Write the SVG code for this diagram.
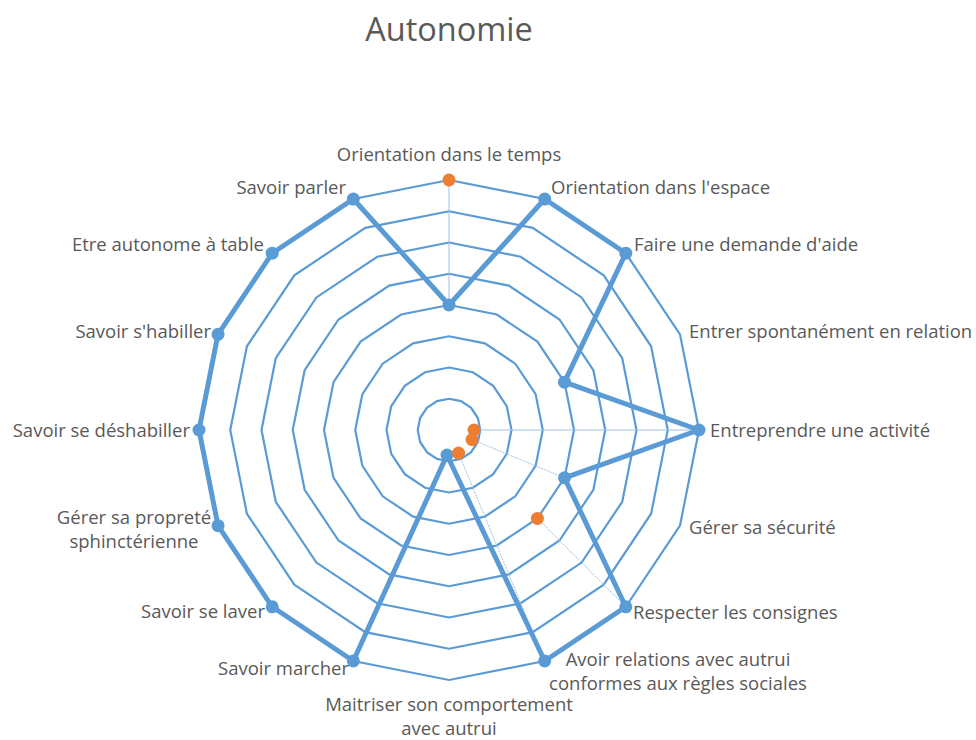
<svg xmlns="http://www.w3.org/2000/svg" width="976" height="740" viewBox="0 0 976 740">
<style>
.ring{fill:none;stroke:#5B9BD5;stroke-width:2.2}
.spoke{stroke:#9DC3E6;stroke-width:1;fill:none}
.ser1{fill:none;stroke:#5B9BD5;stroke-width:5;stroke-linejoin:round}
.m1{fill:#5B9BD5}
.m2{fill:#ED7D31}
.lbl{font-family:"Open Sans","Noto Sans",sans-serif;font-size:18.5px;fill:#595959}
.title{font-family:"Open Sans","Noto Sans",sans-serif;font-size:32.5px;fill:#595959}
</style>
<rect width="976" height="740" fill="#fff"/>
<text class="title" x="449" y="41" text-anchor="middle">Autonomie</text>
<g id="grid" transform="translate(449,430)">
<polygon class="ring" points="0,-31.25 11.96,-28.87 22.1,-22.1 28.87,-11.96 31.25,0 28.87,11.96 22.1,22.1 11.96,28.87 0,31.25 -11.96,28.87 -22.1,22.1 -28.87,11.96 -31.25,0 -28.87,-11.96 -22.1,-22.1 -11.96,-28.87"/>
<polygon class="ring" points="0,-62.5 23.92,-57.74 44.19,-44.19 57.74,-23.92 62.5,0 57.74,23.92 44.19,44.19 23.92,57.74 0,62.5 -23.92,57.74 -44.19,44.19 -57.74,23.92 -62.5,0 -57.74,-23.92 -44.19,-44.19 -23.92,-57.74"/>
<polygon class="ring" points="0,-93.75 35.88,-86.61 66.29,-66.29 86.61,-35.88 93.75,0 86.61,35.88 66.29,66.29 35.88,86.61 0,93.75 -35.88,86.61 -66.29,66.29 -86.61,35.88 -93.75,0 -86.61,-35.88 -66.29,-66.29 -35.88,-86.61"/>
<polygon class="ring" points="0,-125 47.84,-115.49 88.39,-88.39 115.49,-47.84 125,0 115.49,47.84 88.39,88.39 47.84,115.49 0,125 -47.84,115.49 -88.39,88.39 -115.49,47.84 -125,0 -115.49,-47.84 -88.39,-88.39 -47.84,-115.49"/>
<polygon class="ring" points="0,-156.25 59.79,-144.36 110.49,-110.49 144.36,-59.79 156.25,0 144.36,59.79 110.49,110.49 59.79,144.36 0,156.25 -59.79,144.36 -110.49,110.49 -144.36,59.79 -156.25,0 -144.36,-59.79 -110.49,-110.49 -59.79,-144.36"/>
<polygon class="ring" points="0,-187.5 71.75,-173.23 132.58,-132.58 173.23,-71.75 187.5,0 173.23,71.75 132.58,132.58 71.75,173.23 0,187.5 -71.75,173.23 -132.58,132.58 -173.23,71.75 -187.5,0 -173.23,-71.75 -132.58,-132.58 -71.75,-173.23"/>
<polygon class="ring" points="0,-218.75 83.71,-202.1 154.68,-154.68 202.1,-83.71 218.75,0 202.1,83.71 154.68,154.68 83.71,202.1 0,218.75 -83.71,202.1 -154.68,154.68 -202.1,83.71 -218.75,0 -202.1,-83.71 -154.68,-154.68 -83.71,-202.1"/>
<polygon class="ring" points="0,-250 95.67,-230.97 176.78,-176.78 230.97,-95.67 250,0 230.97,95.67 176.78,176.78 95.67,230.97 0,250 -95.67,230.97 -176.78,176.78 -230.97,95.67 -250,0 -230.97,-95.67 -176.78,-176.78 -95.67,-230.97"/>
</g>
<g id="connectors" transform="translate(449,430)">
<line class="spoke" x1="0" y1="-250" x2="0" y2="-125"/>
<line class="spoke" x1="25" y1="0" x2="250" y2="0"/>
<line class="spoke" x1="23.1" y1="9.57" x2="115.49" y2="47.84" stroke-dasharray="2 1"/>
<line class="spoke" x1="88.39" y1="88.39" x2="176.78" y2="176.78" stroke-dasharray="2 1"/>
<line class="spoke" x1="9.57" y1="23.1" x2="95.67" y2="230.97" stroke-dasharray="2 1"/>
<polygon class="ser1" points="0,-125 95.67,-230.97 176.78,-176.78 115.49,-47.84 250,0 115.49,47.84 176.78,176.78 95.67,230.97 -2,25 -95.67,230.97 -176.78,176.78 -230.97,95.67 -250,0 -230.97,-95.67 -176.78,-176.78 -95.67,-230.97"/>
</g>
<g id="series1-markers" transform="translate(449,430)">
<circle class="m1" cx="0" cy="-125" r="6.5"/>
<circle class="m1" cx="95.67" cy="-230.97" r="6.5"/>
<circle class="m1" cx="176.78" cy="-176.78" r="6.5"/>
<circle class="m1" cx="115.49" cy="-47.84" r="6.5"/>
<circle class="m1" cx="250" cy="0" r="6.5"/>
<circle class="m1" cx="115.49" cy="47.84" r="6.5"/>
<circle class="m1" cx="176.78" cy="176.78" r="6.5"/>
<circle class="m1" cx="95.67" cy="230.97" r="6.5"/>
<circle class="m1" cx="-2" cy="25" r="6.5"/>
<circle class="m1" cx="-95.67" cy="230.97" r="6.5"/>
<circle class="m1" cx="-176.78" cy="176.78" r="6.5"/>
<circle class="m1" cx="-230.97" cy="95.67" r="6.5"/>
<circle class="m1" cx="-250" cy="0" r="6.5"/>
<circle class="m1" cx="-230.97" cy="-95.67" r="6.5"/>
<circle class="m1" cx="-176.78" cy="-176.78" r="6.5"/>
<circle class="m1" cx="-95.67" cy="-230.97" r="6.5"/>
</g>
<g id="series2-markers" transform="translate(449,430)">
<circle class="m2" cx="0" cy="-250" r="6.5"/>
<circle class="m2" cx="25" cy="0" r="6.5"/>
<circle class="m2" cx="23.1" cy="9.57" r="6.5"/>
<circle class="m2" cx="88.39" cy="88.39" r="6.5"/>
<circle class="m2" cx="9.57" cy="23.1" r="6.5"/>
</g>
<g id="labels">
<text class="lbl" x="449" y="161" text-anchor="middle">Orientation dans le temps</text>
<text class="lbl" x="551" y="194">Orientation dans l'espace</text>
<text class="lbl" x="634" y="251">Faire une demande d'aide</text>
<text class="lbl" x="689" y="338">Entrer spontanément en relation</text>
<text class="lbl" x="710" y="437">Entreprendre une activité</text>
<text class="lbl" x="689" y="534">Gérer sa sécurité</text>
<text class="lbl" x="633" y="619">Respecter les consignes</text>
<text class="lbl" x="678" y="666" text-anchor="middle">Avoir relations avec autrui</text>
<text class="lbl" x="678" y="690" text-anchor="middle">conformes aux règles sociales</text>
<text class="lbl" x="449" y="711" text-anchor="middle">Maitriser son comportement</text>
<text class="lbl" x="449" y="735" text-anchor="middle">avec autrui</text>
<text class="lbl" x="349" y="675" text-anchor="end">Savoir marcher</text>
<text class="lbl" x="265" y="618" text-anchor="end">Savoir se laver</text>
<text class="lbl" x="134" y="524" text-anchor="middle">Gérer sa propreté</text>
<text class="lbl" x="134" y="548" text-anchor="middle">sphinctérienne</text>
<text class="lbl" x="190" y="437" text-anchor="end">Savoir se déshabiller</text>
<text class="lbl" x="211" y="338" text-anchor="end">Savoir s'habiller</text>
<text class="lbl" x="264" y="251" text-anchor="end">Etre autonome à table</text>
<text class="lbl" x="346" y="194" text-anchor="end">Savoir parler</text>
</g>
</svg>
